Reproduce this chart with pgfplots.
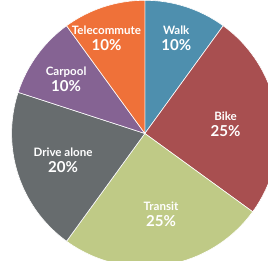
\documentclass[border=0pt]{standalone}
\usepackage{fontspec}
\setmainfont{Lato}
\usepackage{pgfplots}
\usepackage{pgfplotstable}
\pgfplotsset{compat=1.18}
\definecolor{cwalk}{HTML}{4E8FAE}
\definecolor{cbike}{HTML}{A84F50}
\definecolor{ctransit}{HTML}{BFCA86}
\definecolor{cdrive}{HTML}{676C6E}
\definecolor{ccarpool}{HTML}{856393}
\definecolor{ctele}{HTML}{EF7139}
\pgfplotstableread{
name value color
Walk 10 cwalk
Bike 25 cbike
Transit 25 ctransit
Drive 20 cdrive
Carpool 10 ccarpool
Telecommute 10 ctele
}\piedata
\begin{document}
\begin{tikzpicture}
\begin{axis}[
  hide axis, scale only axis,
  width=9.46cm, height=9.46cm,
  xmin=-1.106, xmax=0.924, ymin=-0.955, ymax=1.076,
  clip=true,
]
\pgfplotstablegetrowsof{\piedata}
\pgfmathtruncatemacro{\nrows}{\pgfplotsretval-1}
\def\curang{90}
\pgfplotsinvokeforeach{0,...,\nrows}{
  \pgfplotstablegetelem{#1}{value}\of{\piedata}
  \pgfmathsetmacro{\sweep}{\pgfplotsretval*3.6}
  \pgfplotstablegetelem{#1}{color}\of{\piedata}
  \edef\col{\pgfplotsretval}
  \pgfmathsetmacro{\endang}{\curang-\sweep}
  \edef\temp{\noexpand\filldraw[fill=\col, draw=white, line width=0.6pt]
    (axis cs:0,0) -- (axis cs:{cos(\curang)},{sin(\curang)})
    arc[start angle=\curang, end angle=\endang, radius=1] -- cycle;}
  \temp
  \global\let\curang\endang
}
\tikzset{lbl/.style={text=white, align=center, font=\bfseries\fontsize{11.5}{16}\selectfont}}
\newcommand\pc[1]{{\fontsize{15}{16}\selectfont #1}}
\node[lbl] at (axis cs:0.235,0.715) {Walk\\\pc{10\%}};
\node[lbl] at (axis cs:-0.288,0.715) {Telecommute\\\pc{10\%}};
\node[lbl] at (axis cs:-0.591,0.41) {Carpool\\\pc{10\%}};
\node[lbl] at (axis cs:0.606,0.07) {Bike\\\pc{25\%}};
\node[lbl] at (axis cs:-0.614,-0.203) {Drive alone\\\pc{20\%}};
\node[lbl] at (axis cs:0.121,-0.605) {Transit\\\pc{25\%}};
\end{axis}
\end{tikzpicture}
\end{document}
